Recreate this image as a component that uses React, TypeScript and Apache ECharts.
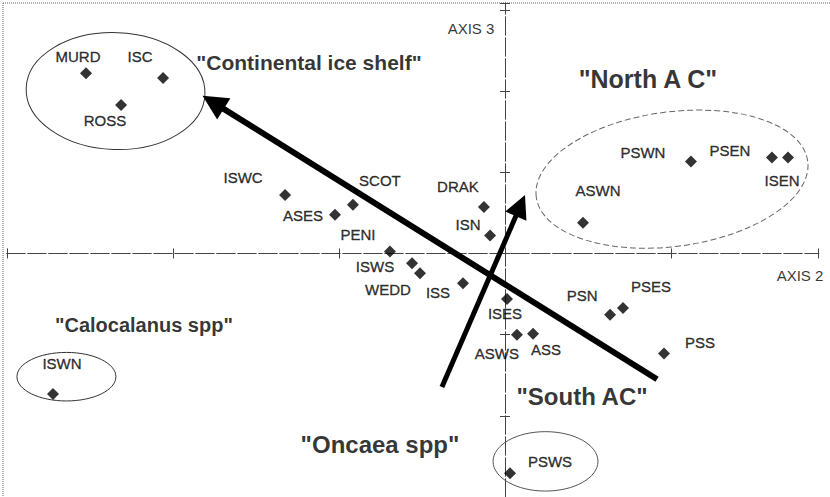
import React, { useEffect, useRef } from "react";
import * as echarts from "echarts";

// Station scores on ordination axes 2 (x) and 3 (y)
const stationNames = ["MURD", "ISC", "ROSS", "ISWC", "SCOT", "ASES", "PENI", "ISWS", "WEDD", "ISS", "DRAK", "ISN", "ISES", "ASWS", "ASS", "PSN", "PSES", "PSS", "PSWN", "PSEN", "ISEN", "ASWN", "ISWN", "PSWS"];
const axis2Scores = [-2.524, -2.06, -2.313, -1.325, -0.916, -1.024, -0.693, -0.56, -0.512, -0.253, -0.127, -0.09, 0.012, 0.072, 0.169, 0.633, 0.711, 0.958, 1.12, 1.608, 1.705, 0.47, -2.723, 0.03];
const axis3Scores = [2.22, 2.16, 1.83, 0.72, 0.6, 0.476, 0.024, -0.122, -0.244, -0.366, 0.573, 0.22, -0.561, -1.0, -0.988, -0.756, -0.671, -1.232, 1.134, 1.183, 1.183, 0.378, -1.732, -2.707];
const labelOffsets = [[-8, -17], [-23, -22], [-16, 16], [-42, -17], [27, -24], [-32, 1], [-32, -17], [-37, 3], [-32, 16], [-25, 9], [-26, -20], [-22, -11], [-2, 15], [-20, 19], [13, 16], [-28, -19], [28, -21], [36, -11], [-48, -9], [-42, -7], [-6, 23], [15, -32], [9, -31], [40, -12]];

// Group annotations
const groupNames = ['"Continental ice shelf"', '"North A C"', '"Calocalanus spp"', '"Oncaea spp"', '"South AC"'];
const groupX = [-1.181, 0.861, -2.175, -0.753, 0.464];
const groupY = [2.354, 2.146, -0.878, -2.354, -1.768];
const groupFontSizes = [21, 25, 20, 24, 24];

// Axis names
const axisNames = ["AXIS 3", "AXIS 2"];
const axisNameX = [-0.205, 1.777];
const axisNameY = [2.768, -0.268];

// Group ellipses: centre, half-widths (data units), tilt (degrees)
const ellipseCx = [-2.346, 1.006, -2.642, 0.244];
const ellipseCy = [2.0, 0.915, -1.518, -2.561];
const ellipseRx = [0.539, 0.825, 0.298, 0.316];
const ellipseRy = [0.72, 0.829, 0.299, 0.366];
const ellipseTilt = [-2, 7.5, 0, 0];
const ellipseStroke = ["#333", "#666", "#333", "#555"];
const ellipseDash: (number[] | null)[] = [null, [6, 3], null, null];

// Vectors (start, end)
const arrowStart = [[0.916, -1.549], [-0.38, -1.646]];
const arrowEnd = [[-1.758, 1.861], [0.093, 0.59]];
const arrowWidth = [6, 5];
const arrowHead = [25, 23];

const FONT = "'Liberation Sans', Arial, Helvetica, sans-serif";

export default function App() {
  const ref = useRef<HTMLDivElement>(null);
  useEffect(() => {
    if (!ref.current) return;
    const chart = echarts.init(ref.current, undefined, { renderer: "svg" });
    const axisLineStyle = { color: "#444", width: 1, type: [18, 3] as any };
    const xAxes = ["bottom", "top"].map((pos) => ({
      type: "value",
      position: pos,
      min: -3,
      max: 1.89,
      interval: 1,
      axisLine: { show: true, onZero: true, lineStyle: axisLineStyle },
      axisTick: { show: true, inside: false, length: 5, lineStyle: { color: "#444", width: 1 } },
      axisLabel: { show: false },
      splitLine: { show: false },
    }));
    const yAxes = ["left", "right"].map((pos) => ({
      type: "value",
      position: pos,
      min: -3,
      max: 3.085,
      interval: 1,
      axisLine: { show: true, onZero: true, lineStyle: axisLineStyle },
      axisTick: { show: true, inside: false, length: 5, lineStyle: { color: "#444", width: 1 } },
      axisLabel: { show: false },
      splitLine: { show: false },
    }));

    const series: any[] = [
      {
        type: "custom",
        silent: true,
        clip: false,
        data: ellipseCx.map((cx, i) => [cx, ellipseCy[i], ellipseRx[i] * 2, ellipseRy[i] * 2, ellipseTilt[i]]),
        renderItem: (params: any, api: any) => {
          const i = params.dataIndex;
          const c = api.coord([api.value(0), api.value(1)]);
          const s = api.size([api.value(2), api.value(3)]);
          return {
            type: "ellipse",
            x: c[0],
            y: c[1],
            rotation: (api.value(4) * Math.PI) / 180,
            shape: { cx: 0, cy: 0, rx: s[0] / 2, ry: s[1] / 2 },
            style: { fill: "none", stroke: ellipseStroke[i], lineWidth: 1, lineDash: ellipseDash[i] || undefined },
          };
        },
      },
      ...arrowStart.map((st, i) => ({
        type: "lines",
        coordinateSystem: "cartesian2d",
        silent: true,
        symbol: ["none", "triangle"],
        symbolSize: arrowHead[i],
        lineStyle: { color: "#000", width: arrowWidth[i], opacity: 1, curveness: 0 },
        data: [{ coords: [st, arrowEnd[i]] }],
      })),
      {
        type: "scatter",
        silent: true,
        symbol: "diamond",
        symbolSize: 12,
        itemStyle: { color: "#000" },
        data: stationNames.map((n, i) => ({
          name: n,
          value: [axis2Scores[i], axis3Scores[i]],
          label: { offset: labelOffsets[i] },
        })),
        label: {
          show: true,
          position: "inside",
          formatter: "{b}",
          color: "#000",
          textBorderColor: "#000",
          textBorderWidth: 0.35,
          fontFamily: FONT,
          fontSize: 15,
          align: "center",
          verticalAlign: "middle",
        },
      },
      {
        type: "scatter",
        silent: true,
        symbolSize: 0,
        itemStyle: { color: "transparent" },
        data: groupNames.map((n, i) => ({
          name: n,
          value: [groupX[i], groupY[i]],
          label: { fontSize: groupFontSizes[i] },
        })),
        label: {
          show: true,
          position: "inside",
          formatter: "{b}",
          color: "#000",
          fontFamily: FONT,
          fontWeight: "bold",
          align: "center",
          verticalAlign: "middle",
        },
      },
      {
        type: "scatter",
        silent: true,
        symbolSize: 0,
        itemStyle: { color: "transparent" },
        data: axisNames.map((n, i) => ({ name: n, value: [axisNameX[i], axisNameY[i]] })),
        label: {
          show: true,
          position: "inside",
          formatter: "{b}",
          color: "#000",
          fontFamily: FONT,
          fontSize: 15,
          align: "center",
          verticalAlign: "middle",
        },
      },
    ];

    chart.setOption({
      animation: false,
      backgroundColor: "#fff",
      grid: { left: 7, top: 3, width: 811.74, height: 498.97, containLabel: false },
      xAxis: xAxes,
      yAxis: yAxes,
      graphic: [
        { type: "line", shape: { x1: 3, y1: 3, x2: 830, y2: 3 }, style: { stroke: "#666", lineWidth: 1, lineDash: [1, 1] }, silent: true },
        { type: "line", shape: { x1: 3, y1: 3, x2: 3, y2: 497 }, style: { stroke: "#666", lineWidth: 1, lineDash: [1, 1] }, silent: true },
      ],
      series,
    });
    return () => chart.dispose();
  }, []);
  return <div ref={ref} style={{ position: "absolute", left: 0, top: 0, width: 830, height: 497, background: "#fff" }} />;
}
